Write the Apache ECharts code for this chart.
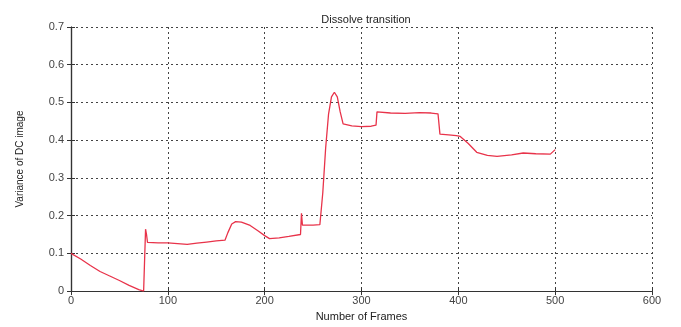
<!DOCTYPE html>
<html>
<head>
<meta charset="utf-8">
<script src="https://cdn.jsdelivr.net/npm/echarts@6/dist/echarts.min.js"></script>
<style>
  html, body { margin: 0; padding: 0; background: #fff; }
  #chart { width: 681px; height: 327px; }
</style>
</head>
<body>
<div id="chart"></div>
<script>
// Frame index and variance of the DC image over a dissolve transition
const frames = [0, 10, 20, 30, 40, 50, 60, 70, 75, 77, 78, 79, 90, 100, 110, 120, 130, 140, 150, 159,
  162, 166, 170, 176, 185, 193, 200, 205, 215, 225, 237, 238, 239, 250, 257, 260, 263, 266, 269,
  272, 275, 278, 281, 290, 300, 310, 315, 316, 330, 345, 360, 372, 379, 381, 390, 398, 402, 410, 419,
  430, 440, 455, 467, 480, 495, 500];
const variance = [0.100, 0.085, 0.068, 0.052, 0.040, 0.028, 0.015, 0.004, 0.000, 0.164, 0.150, 0.129, 0.128, 0.128, 0.126, 0.124, 0.127, 0.130, 0.133, 0.135,
  0.155, 0.178, 0.184, 0.183, 0.174, 0.160, 0.147, 0.139, 0.141, 0.145, 0.150, 0.206, 0.175, 0.175, 0.176, 0.260, 0.380, 0.470, 0.515,
  0.527, 0.515, 0.475, 0.443, 0.438, 0.436, 0.437, 0.440, 0.475, 0.472, 0.471, 0.473, 0.472, 0.470, 0.416, 0.414, 0.412, 0.410, 0.392, 0.368,
  0.360, 0.357, 0.361, 0.366, 0.364, 0.363, 0.375];

const xTicks = [0, 100, 200, 300, 400, 500, 600];
const yTicks = [0, 0.1, 0.2, 0.3, 0.4, 0.5, 0.6, 0.7];

const points = frames.map((f, i) => [f, variance[i]]);

const font = 'Liberation Sans, Arial, sans-serif';
const ink = '#333';
const gridDots = { color: '#444', width: 1, type: [2, 3] };

const chart = echarts.init(document.getElementById('chart'), null, { renderer: 'canvas' });
chart.setOption({
  animation: false,
  backgroundColor: '#fff',
  title: {
    text: 'Dissolve transition',
    left: 361, top: 9, textAlign: 'center',
    textStyle: { fontFamily: font, fontSize: 11, fontWeight: 'normal', color: '#222' }
  },
  grid: { left: 71, right: 29, top: 27, bottom: 34 },
  xAxis: [{
    type: 'value', min: xTicks[0], max: xTicks[xTicks.length - 1], interval: 100,
    name: 'Number of Frames', nameLocation: 'middle', nameGap: 16,
    nameTextStyle: { fontFamily: font, fontSize: 11, color: '#222' },
    axisLine: { lineStyle: { color: ink, width: 1.2 } },
    axisTick: { inside: true, length: 4, lineStyle: { color: ink } },
    axisLabel: { fontFamily: font, fontSize: 11, color: '#444', margin: 4 },
    splitLine: { show: true, lineStyle: gridDots }
  }, {
    type: 'value', position: 'top', min: xTicks[0], max: xTicks[xTicks.length - 1], interval: 100,
    axisLine: { show: true, lineStyle: { color: ink, width: 1.2 } },
    axisTick: { inside: true, length: 4, lineStyle: { color: ink } },
    axisLabel: { show: false }, splitLine: { show: false }
  }],
  yAxis: [{
    type: 'value', min: yTicks[0], max: yTicks[yTicks.length - 1], interval: 0.1,
    name: 'Variance of DC image', nameLocation: 'middle', nameGap: 46,
    nameTextStyle: { fontFamily: font, fontSize: 10, color: '#222' },
    axisLine: { show: true, lineStyle: { color: ink, width: 1.2 } },
    axisTick: { inside: true, length: 4, lineStyle: { color: ink } },
    axisLabel: { fontFamily: font, fontSize: 11, color: '#444', margin: 7,
      formatter: v => (v === 0 ? '0' : v.toFixed(1)) },
    splitLine: { show: true, lineStyle: gridDots }
  }, {
    type: 'value', position: 'right', min: yTicks[0], max: yTicks[yTicks.length - 1], interval: 0.1,
    axisLine: { show: true, lineStyle: { color: ink, width: 1.2 } },
    axisTick: { inside: true, length: 4, lineStyle: { color: ink } },
    axisLabel: { show: false }, splitLine: { show: false }
  }],
  series: [{
    type: 'line', data: points, showSymbol: false, smooth: false,
    lineStyle: { color: '#e8334a', width: 1.3 }
  }]
});
</script>
</body>
</html>
